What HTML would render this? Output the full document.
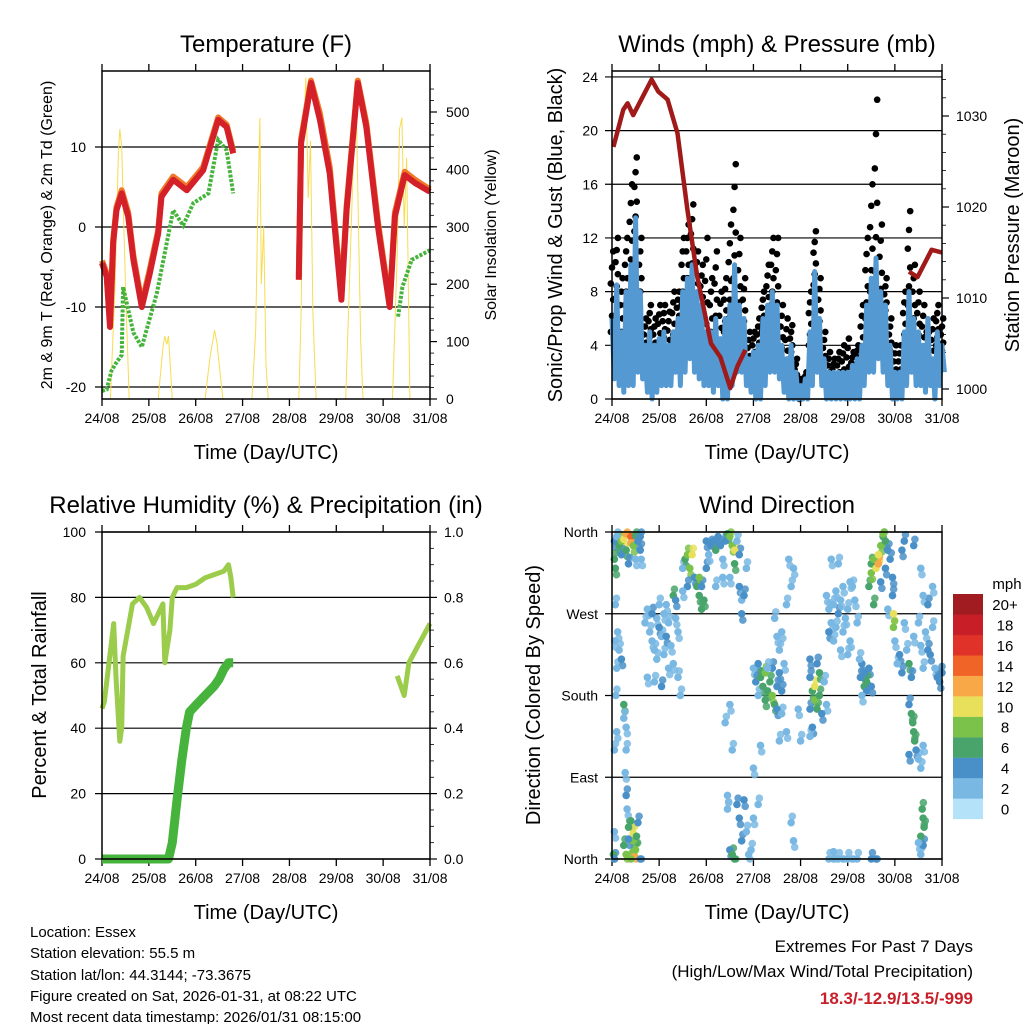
<!DOCTYPE html>
<html><head><meta charset="utf-8"><style>
body{margin:0;background:#fff}
svg{display:block;font-family:"Liberation Sans",sans-serif}
</style></head><body>
<svg id="chart" width="1024" height="1024" viewBox="0 0 1024 1024">
<rect width="1024" height="1024" fill="#fff"/>
<g id="g1"></g>
<g id="g2"></g>
<g id="g3"></g>
<g id="g4"></g>
<g font-size="15" fill="#000">
<text x="30" y="937">Location: Essex</text>
<text x="30" y="958">Station elevation: 55.5 m</text>
<text x="30" y="980">Station lat/lon: 44.3144; -73.3675</text>
<text x="30" y="1001">Figure created on Sat, 2026-01-31, at 08:22 UTC</text>
<text x="30" y="1022">Most recent data timestamp: 2026/01/31 08:15:00</text>
</g>
<g text-anchor="end">
<text x="973" y="952" font-size="17">Extremes For Past 7 Days</text>
<text x="973" y="977" font-size="17">(High/Low/Max Wind/Total Precipitation)</text>
<text x="973" y="1004" font-size="17" font-weight="bold" fill="#c8202a">18.3/-12.9/13.5/-999</text>
</g>
</svg>
<script>
// ---- data ----
const dayLabels=["24/08","25/08","26/08","27/08","28/08","29/08","30/08","31/08"];
const redT=[0,0.1,0.17,0.24,0.31,0.42,0.56,0.67,0.85,1.02,1.2,1.27,1.52,1.81,2.16,2.48,2.66,2.8,null,4.2,4.25,4.46,4.65,4.86,5.11,5.22,5.46,5.64,5.89,6.14,6.25,6.46,6.68,7.0];
const redV=[-4.5,-6.2,-12.5,-2,2.1,4.2,1.3,-4.1,-10,-5.8,-0.8,3.8,5.9,4.6,7.1,13.4,12.5,9.2,null,-6.6,10.5,18,13.4,6.7,-9.1,2.1,18,12.5,0,-10,1.3,6.5,5.5,4.4];
const orangeV=[-4.2,-5.8,-12,-1.6,2.5,4.6,1.8,-3.6,-9.6,-5.3,-0.4,4.2,6.3,5,7.5,13.7,12.8,9.5,null,-6.2,11,18.3,14.2,7.5,-8.5,2.6,18.3,13,0.6,-9.6,1.8,6.9,5.9,4.7];
const tdT=[0,0.1,0.2,0.3,0.42,0.45,0.67,0.85,1.17,1.52,1.73,1.95,2.27,2.48,2.66,2.8,null,6.32,6.41,6.61,7.0];
const tdV=[-20.5,-20.3,-18,-17,-16,-7.5,-13.2,-15,-8.3,2.1,0.2,3,4.2,10.9,9.6,4.2,null,-11.2,-7.5,-4.1,-2.9];
const solT=[0,0.18,0.28,0.35,0.38,0.42,0.5,0.58,1.2,1.3,1.34,1.38,1.42,1.5,2.2,2.3,2.4,2.45,2.58,3.2,3.28,3.33,3.37,3.4,3.45,3.5,3.55,4.2,4.25,4.3,4.35,4.4,4.45,4.5,4.57,5.2,5.28,5.35,5.4,5.42,5.45,5.52,5.57,6.2,6.3,6.35,6.4,6.45,6.5,6.57,7];
const solV=[0,0,200,430,470,440,200,0,0,90,110,95,110,0,0,70,120,100,0,0,120,350,490,200,300,60,0,0,150,450,560,350,450,150,0,0,200,380,500,550,400,100,0,0,250,470,490,300,420,0,0];
const windT=[0,0.1,0.2,0.3,0.4,0.5,0.6,0.7,0.8,0.9,1,1.1,1.2,1.3,1.4,1.5,1.6,1.7,1.8,1.9,2,2.1,2.2,2.3,2.4,2.5,2.6,2.7,2.8,2.9,3,3.1,3.2,3.3,3.4,3.5,3.6,3.7,3.8,3.9,4,4.1,4.2,4.3,4.4,4.5,4.6,4.7,4.8,4.9,5,5.1,5.2,5.3,5.4,5.5,5.6,5.7,5.8,5.9,6,6.1,6.2,6.3,6.4,6.5,6.6,6.7,6.8,6.9,7];
const windLo=[1.5,1,0.5,1,1,2,1.5,0.5,0,0.5,1,1,1,2,1,2,3,2,1.5,1,1,0.5,1,0,0,1,2,2,1,0.5,0,0,1,2,2,1.5,0.5,0,0,0,0,0,1,2,1,0,0,0,0,0,0,0,0,1,2,2,3,2,1,0,0,0,1,2,1,1,0.5,1,0,1,2];
const windHi=[6,8.5,5,8,10,13.5,8,4,5,4,4.5,5,4,5,6,8,9,10,8,7,5,5,6,4.5,6,7,10,7,6,3,3.5,4,6,7,8,7,4,3,4,2,1,1.5,5,9.5,6,3,2,2,2,2,2,2.5,3,4,7,9,10.5,8,7,4,2,2,5,8,6,5,4,6,3,5,4];
const windGust=[11,12,9,12,16,18,12,6,7,6,7,7,6.5,8,8,12,13,14.5,11,10,12,9,11,8,9,13,17.5,12,9,5,5,6,8,10,12,12,7,6,5.5,3,1.5,2,8,12.5,9,5,3.5,3,3.5,4,4.5,3.5,4,7,12,16,22.3,13,9,6,4,4,8,14,10,8,7,5,6,7,6];
const presT=[0.03,0.24,0.33,0.45,0.63,0.84,0.98,1.18,1.39,1.6,1.81,2.1,2.3,2.51,2.66,2.83,null,6.3,6.48,6.78,7.0];
const presV=[1026.6,1030.7,1031.4,1030.1,1031.9,1034,1032.7,1031.8,1028.1,1019.7,1012.3,1005,1003.5,1000.1,1002.5,1004.3,null,1012.9,1012.3,1015.3,1015];
const rhT=[0,0.05,0.15,0.25,0.3,0.38,0.42,0.45,0.55,0.65,0.8,0.95,1.1,1.2,1.3,1.34,1.45,1.5,1.6,1.8,2.0,2.2,2.4,2.6,2.7,2.75,2.8,null,6.3,6.4,6.45,6.55,6.7,6.85,7.0];
const rhV=[46,48,60,72,55,36,40,62,70,78,80,77,72,75,78,60,70,80,83,83,84,86,87,88,90,86,80,null,56,52,50,60,64,68,72];
const rainT=[0,0.5,1.0,1.42,1.5,1.6,1.7,1.8,1.87,2.0,2.2,2.4,2.5,2.6,2.7,2.8];
const rainV=[0,0,0,0,0.05,0.18,0.3,0.4,0.45,0.47,0.5,0.53,0.55,0.58,0.6,0.6];
const dirTime=[0.05,0.05,0.07,0.1,0.15,0.2,0.25,0.3,0.4,0.4,0.45,0.5,0.55,0.6,0.62,0.2,0.3,0.35,0.5,0.6,
0.03,0.05,0.05,0.25,0.3,0.35,0.4,0.45,0.45,0.45,0.48,0.5,0.52,0.55,0.6,0.4,0.35,
0.07,0.06,0.1,0.12,0.08,0.1,0.05,0.25,0.25,0.3,0.3,0.28,0.3,0.32,0.15,0.2,
0.7,0.75,0.8,0.85,0.9,0.95,1.0,1.0,1.05,1.1,1.1,1.15,1.2,1.25,1.3,1.35,1.4,1.3,0.9,0.75,1.05,1.2,1.45,1.4,0.85,1.15,0.95,1.35,
1.5,1.55,1.6,1.65,1.7,1.75,1.8,1.85,1.9,1.85,1.6,1.5,1.9,1.95,
2.0,2.05,2.1,2.15,2.2,2.25,2.3,2.35,2.4,2.45,2.5,2.55,2.6,2.6,2.7,2.7,2.75,2.75,2.8,2.5,2.2,2.0,2.85,2.35,2.65,
2.45,2.45,2.5,2.55,2.6,2.65,2.7,2.75,2.8,2.85,2.9,2.95,3.0,2.4,2.5,2.55,
3.0,3.05,3.1,3.15,3.2,3.25,3.3,3.35,3.4,3.4,3.45,3.5,3.55,3.6,3.65,3.1,3.25,3.3,3.5,
3.45,3.5,3.55,3.6,3.7,3.75,3.8,3.85,3.6,3.7,3.55,3.15,3.1,3.0,3.8,3.85,
4.2,4.25,4.3,4.3,4.35,4.4,4.4,4.45,4.5,4.55,4.2,4.25,4.35,4.2,4.0,3.95,4.2,
4.55,4.6,4.65,4.7,4.75,4.8,4.85,4.9,4.95,5.0,5.05,5.1,5.15,5.2,4.6,4.7,4.85,5.0,4.9,4.75,5.05,4.8,4.65,
4.6,4.7,4.8,4.9,5.0,5.1,5.2,4.7,5.5,5.6,
5.27,5.3,5.35,5.35,5.4,5.45,5.4,5.3,5.25,5.5,
5.45,5.5,5.5,5.55,5.6,5.65,5.65,5.7,5.75,5.8,5.85,5.8,5.9,5.95,5.95,5.85,5.55,5.7,5.75,5.97,5.97,
6.0,6.05,6.1,6.15,6.2,6.25,6.3,6.35,6.4,6.5,6.55,6.6,6.65,6.7,6.75,6.8,6.85,6.9,6.95,7.0,6.6,6.7,6.8,6.4,6.15,6.2,6.55,
6.3,6.35,6.38,6.4,6.42,6.45,6.5,6.3,6.55,6.6,
6.58,6.6,6.62,6.55,6.6,6.5,6.55];
const dirDeg=[350,330,320,355,345,350,352,358,355,348,345,356,350,340,330,335,340,325,330,355,
5,0,30,15,5,35,42,28,20,8,3,10,25,40,0,0,22,
280,240,210,250,180,140,120,170,155,145,120,95,70,55,230,220,
260,275,250,240,230,265,280,255,245,270,225,280,260,235,290,265,200,215,195,200,190,210,180,250,270,245,220,285,
320,330,335,320,335,310,300,290,275,310,300,295,300,285,
320,335,345,350,340,355,345,330,350,358,355,345,340,325,335,300,285,270,290,310,300,350,320,310,350,
70,55,10,5,0,60,45,20,65,30,5,10,45,150,170,120,
210,195,215,200,190,205,185,195,180,210,170,190,205,185,215,180,175,210,165,
265,245,230,250,280,330,300,320,160,140,130,125,60,100,40,20,
200,185,190,175,165,205,180,160,195,170,165,145,215,220,130,165,135,
290,275,260,280,295,270,285,250,265,275,240,300,285,260,250,240,230,225,300,255,305,325,330,
0,0,0,0,0,0,0,8,0,0,
200,215,190,205,185,210,195,180,220,190,
300,315,325,330,320,335,325,345,355,350,340,320,330,310,290,275,280,305,358,270,255,
240,215,225,205,260,230,215,200,245,260,235,210,250,230,225,255,210,200,195,205,290,280,300,345,340,350,320,
170,160,150,140,130,120,110,115,100,125,
55,45,35,25,15,18,5];
const dirSpeed=[4,7,6,2,6,9,10,12,14,12,8,7,4,4,2,4,6,5,2,4,
6,4,2,7,8,6,7,10,9,8,13,8,7,5,4,9,4,
2,3,2,2,3,2,3,6,3,2,2,3,4,2,2,4,
2,2,3,2,2,3,2,4,2,3,2,2,2,2,6,2,2,3,2,3,4,3,2,3,4,4,2,5,
3,7,8,9,10,5,6,7,6,8,4,2,4,7,
4,3,5,4,6,4,4,3,4,7,9,8,10,6,4,4,3,4,5,2,2,4,2,2,2,
2,2,4,6,6,4,5,4,4,2,2,2,2,2,2,2,
2,4,4,6,7,8,7,6,8,4,6,4,4,4,2,2,6,2,4,
2,2,2,2,2,2,2,2,2,2,2,2,2,2,2,2,
4,6,10,8,7,6,6,4,2,2,4,4,4,4,2,2,2,
2,2,2,2,3,4,3,2,2,2,2,2,2,2,4,2,2,2,2,2,2,2,2,
2,2,2,2,2,2,2,2,4,4,
4,4,6,4,4,4,6,2,2,4,
6,8,6,8,10,10,12,8,6,6,4,4,4,4,4,2,6,4,8,10,8,
2,2,4,4,2,2,6,4,2,2,2,2,2,4,4,2,2,4,4,4,2,4,2,4,4,4,2,
4,6,6,6,6,4,2,4,2,2,
6,6,6,6,4,2,2];
const speedColors=["#b4e2f8","#7ab8e4","#4a90c8","#48a46a","#7ac24a","#e8e05a","#f8a846","#f06428","#e03228","#c81e28","#a01c20"];
const speedLabels=["0","2","4","6","8","10","12","14","16","18","20+"];
const dirLabels=["North","East","South","West","North"];
const tempTicks=[-20,-10,0,10];
const solarTicks=[0,100,200,300,400,500];
const windTicks=[0,4,8,12,16,20,24];
const presTicks=[1000,1010,1020,1030];
const rhTicks=[0,20,40,60,80,100];
const rainTicks=["0.0","0.2","0.4","0.6","0.8","1.0"];

// ---- helpers ----
const NS="http://www.w3.org/2000/svg";
function mk(parent,tag,attrs,text){const e=document.createElementNS(NS,tag);for(const k in attrs)e.setAttribute(k,attrs[k]);if(text!==undefined)e.textContent=text;parent.appendChild(e);return e;}
function pathFrom(ts,vs,sx,sy){let d="",pen=false;for(let i=0;i<ts.length;i++){if(ts[i]===null||vs[i]===null){pen=false;continue;}d+=(pen?"L":"M")+sx(ts[i]).toFixed(1)+","+sy(vs[i]).toFixed(1);pen=true;}return d;}

function frame(g,L,T,R,B,title,xTitle){
  const sx=t=>L+t*(R-L)/7;
  let e=mk(g,"text",{x:(L+R)/2,y:T-19,"font-size":24,"text-anchor":"middle"},title);
  
  e=mk(g,"text",{x:(L+R)/2,y:B+60,"font-size":20,"text-anchor":"middle"},xTitle);
  
  for(let i=0;i<8;i++){
    const x=sx(i);
    e=mk(g,"line",{x1:x,x2:x,y1:B,y2:B+7,stroke:"#000","stroke-width":1.3});
    
    mk(g,"line",{x1:x,x2:x,y1:T,y2:T-7,stroke:"#000","stroke-width":1.3});
    e=mk(g,"text",{x:x,y:B+24,"font-size":14,"text-anchor":"middle"},dayLabels[i]);
    
  }
  return sx;
}
function box(g,L,T,R,B){const e=mk(g,"rect",{x:L,y:T,width:R-L,height:B-T,fill:"none",stroke:"#000","stroke-width":1.5});}
function hgrid(g,L,R,y,ext){const e=mk(g,"line",{x1:L-(ext||7),x2:R,y1:y,y2:y,stroke:"#000","stroke-width":1.2});}

// ---- panel 1: temperature ----
(function(){
  const g=document.getElementById("g1");const L=102,T=71,R=430,B=399;
  const sx=frame(g,L,T,R,B,"Temperature (F)","Time (Day/UTC)");
  const sy=v=>227-v*8;const sr=w=>399-w*0.574;
  tempTicks.forEach(v=>{hgrid(g,L,R,sy(v));const e=mk(g,"text",{x:L-16,y:sy(v)+5,"font-size":14,"text-anchor":"end"},String(v));});
  solarTicks.forEach(v=>{mk(g,"line",{x1:R,x2:R+7,y1:sr(v),y2:sr(v),stroke:"#000","stroke-width":1.2});const e=mk(g,"text",{x:R+16,y:sr(v)+5,"font-size":14},String(v));});
  for(let v=20;v<560;v+=20){mk(g,"line",{x1:R,x2:R+4,y1:sr(v),y2:sr(v),stroke:"#000","stroke-width":0.8});}
  let e=mk(g,"path",{d:pathFrom(solT,solV,sx,sr),fill:"none",stroke:"#f8dc50","stroke-width":1});
  
  e=mk(g,"path",{d:pathFrom(tdT,tdV,sx,sy),fill:"none",stroke:"#46b43c","stroke-width":4,"stroke-dasharray":"3 1.5"});
  
  e=mk(g,"path",{d:pathFrom(redT,orangeV,sx,sy),fill:"none",stroke:"#f07828","stroke-width":6,"stroke-linejoin":"round"});
  
  e=mk(g,"path",{d:pathFrom(redT,redV,sx,sy),fill:"none",stroke:"#d42028","stroke-width":6,"stroke-linejoin":"round"});
  
  box(g,L,T,R,B);
  e=mk(g,"text",{x:0,y:0,"font-size":16,"text-anchor":"middle",transform:"translate(52,235) rotate(-90)"},"2m & 9m T (Red, Orange) & 2m Td (Green)");
  
  e=mk(g,"text",{x:0,y:0,"font-size":16,"text-anchor":"middle",transform:"translate(496,235) rotate(-90)"},"Solar Insolation (Yellow)");
  
})();

// ---- panel 2: winds & pressure ----
(function(){
  const g=document.getElementById("g2");const L=612,T=71,R=942,B=399;
  const sx=frame(g,L,T,R,B,"Winds (mph) & Pressure (mb)","Time (Day/UTC)");
  const sy=v=>399-v*13.42;const sp=p=>389-(p-1000)*9.1;
  windTicks.forEach(v=>{hgrid(g,L,R,sy(v));const e=mk(g,"text",{x:L-14,y:sy(v)+5,"font-size":14,"text-anchor":"end"},String(v));});
  presTicks.forEach(v=>{mk(g,"line",{x1:R,x2:R+7,y1:sp(v),y2:sp(v),stroke:"#000","stroke-width":1.2});const e=mk(g,"text",{x:R+14,y:sp(v)+5,"font-size":14},String(v));});
  for(let v=1000;v<1036;v+=2){mk(g,"line",{x1:R,x2:R+4,y1:sp(v),y2:sp(v),stroke:"#000","stroke-width":0.8});}
  for(let i=0;i<windT.length;i++){
    const n=5;
    for(let k=0;k<=n;k++){
      const v=windHi[i]-1+(windGust[i]-windHi[i]+1)*k/n;
      const c=mk(g,"circle",{cx:sx(windT[i]+((k%3)-1)*0.025),cy:sy(v),r:3.3,fill:"#000"});
      
    }
  }
  let d="";
  for(let i=0;i<windT.length;i++){d+=(i?"L":"M")+sx(windT[i]).toFixed(1)+","+sy(windHi[i]).toFixed(1)+"L"+sx(windT[i]+0.05).toFixed(1)+","+sy(windLo[i]).toFixed(1);}
  let e=mk(g,"path",{d:d,fill:"none",stroke:"#5499d2","stroke-width":5,"stroke-linejoin":"round"});
  
  e=mk(g,"path",{d:pathFrom(presT,presV,sx,sp),fill:"none",stroke:"#a01a1a","stroke-width":4.5,"stroke-linejoin":"round"});
  
  box(g,L,T,R,B);
  e=mk(g,"text",{x:0,y:0,"font-size":20,"text-anchor":"middle",transform:"translate(562,235) rotate(-90)"},"Sonic/Prop Wind & Gust (Blue, Black)");
  
  e=mk(g,"text",{x:0,y:0,"font-size":20,"text-anchor":"middle",transform:"translate(1019,235) rotate(-90)"},"Station Pressure (Maroon)");
  
})();

// ---- panel 3: humidity & precipitation ----
(function(){
  const g=document.getElementById("g3");const L=102,T=532,R=430,B=859;
  const sx=frame(g,L,T,R,B,"Relative Humidity (%) & Precipitation (in)","Time (Day/UTC)");
  const sy=v=>859-v*3.27;const sr=v=>859-v*327;
  rhTicks.forEach(v=>{hgrid(g,L,R,sy(v));const e=mk(g,"text",{x:L-16,y:sy(v)+5,"font-size":14,"text-anchor":"end"},String(v));});
  rainTicks.forEach(v=>{const y=sr(parseFloat(v));mk(g,"line",{x1:R,x2:R+7,y1:y,y2:y,stroke:"#000","stroke-width":1.2});const e=mk(g,"text",{x:R+14,y:y+5,"font-size":14},v);});
  for(let v=0;v<=1.001;v+=0.05){mk(g,"line",{x1:R,x2:R+4,y1:sr(v),y2:sr(v),stroke:"#000","stroke-width":0.8});}
  let e=mk(g,"path",{d:pathFrom(rhT,rhV,sx,sy),fill:"none",stroke:"#9ccc4c","stroke-width":5,"stroke-linejoin":"round"});
  
  e=mk(g,"path",{d:pathFrom(rainT,rainV,sx,sr),fill:"none",stroke:"#46b43c","stroke-width":9,"stroke-linejoin":"round"});
  
  box(g,L,T,R,B);
  e=mk(g,"text",{x:0,y:0,"font-size":20,"text-anchor":"middle",transform:"translate(46,695) rotate(-90)"},"Percent & Total Rainfall");
  
})();

// ---- panel 4: wind direction ----
(function(){
  const g=document.getElementById("g4");const L=612,T=532,R=942,B=859;
  const sx=frame(g,L,T,R,B,"Wind Direction","Time (Day/UTC)");
  const sy=d=>859-d*327/360;
  dirLabels.forEach((lab,i)=>{const y=sy(i*90);hgrid(g,L,R,y);const e=mk(g,"text",{x:L-14,y:y+5,"font-size":14,"text-anchor":"end"},lab);});
  // secondary lighter dots slightly offset for density
  for(let i=0;i<dirTime.length;i++){
    const ci=Math.min(10,Math.floor(dirSpeed[i]/2));
    const dd=Math.max(0,Math.min(360,dirDeg[i]+((i%2)?7:-7)));
    const c=mk(g,"circle",{cx:sx(Math.min(7,dirTime[i]+0.025)),cy:sy(dd),r:3.8,fill:speedColors[ci],opacity:0.85});
    
  }
  for(let i=0;i<dirTime.length;i++){
    const ci=Math.min(10,Math.floor(dirSpeed[i]/2));
    const c=mk(g,"circle",{cx:sx(dirTime[i]),cy:sy(dirDeg[i]),r:3.8,fill:speedColors[ci]});
    
  }
  box(g,L,T,R,B);
  let e=mk(g,"text",{x:0,y:0,"font-size":20,"text-anchor":"middle",transform:"translate(540,695) rotate(-90)"},"Direction (Colored By Speed)");
  
  e=mk(g,"text",{x:1007,y:589,"font-size":15,"text-anchor":"middle"},"mph");
  
  for(let i=0;i<11;i++){
    const y=594+(10-i)*20.45;
    const r=mk(g,"rect",{x:953,y:y,width:30,height:20.6,fill:speedColors[i]});
    
    const t=mk(g,"text",{x:1005,y:y+16,"font-size":15,"text-anchor":"middle"},speedLabels[i]);
    
  }
})();
</script>
</body></html>
